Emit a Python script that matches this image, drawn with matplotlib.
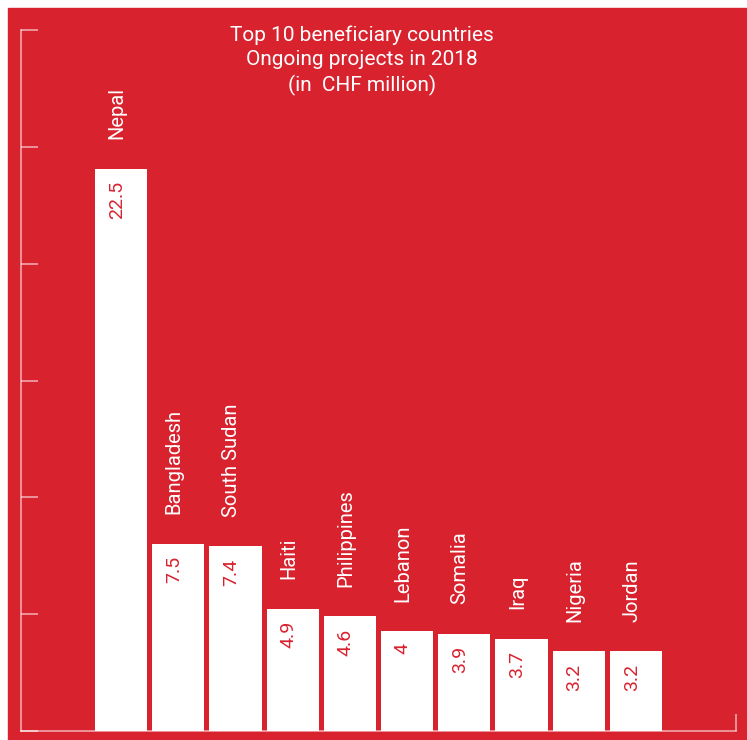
import matplotlib.pyplot as plt
from matplotlib.patches import Rectangle
import numpy as np

countries = ['Nepal', 'Bangladesh', 'South Sudan', 'Haiti', 'Philippines',
             'Lebanon', 'Somalia', 'Iraq', 'Nigeria', 'Jordan']
values = [22.5, 7.5, 7.4, 4.9, 4.6, 4, 3.9, 3.7, 3.2, 3.2]
value_labels = ['22.5', '7.5', '7.4', '4.9', '4.6', '4', '3.9', '3.7', '3.2', '3.2']
title = 'Top 10 beneficiary countries\nOngoing projects in 2018\n(in  CHF million)'

red = '#D8232F'
W, H = 747, 740
plt.rcParams['font.family'] = ['Roboto', 'DejaVu Sans']

fig = plt.figure(figsize=(W / 100, H / 100), dpi=100)
fig.patch.set_facecolor('white')
# red panel (small white strip on top and left)
fig.add_artist(Rectangle((8 / W, 0), 1, 1 - 8 / H, transform=fig.transFigure,
                         color=red, zorder=0))

ax = fig.add_axes([21 / W, 9 / H, (736 - 21) / W, (731 - 30) / H])
ax.set_facecolor('none')

x = np.arange(len(countries))
ax.bar(x, values, width=0.91, color='white', zorder=2)

ymax = 28.04
ax.set_xlim(-1.75, 10.75)
ax.set_ylim(0, ymax)

for xi, v, name, lab in zip(x, values, countries, value_labels):
    ax.annotate(name, (xi, v), xytext=(-3, 21), textcoords='offset points',
                rotation=90, ha='center', va='bottom', color='white', fontsize=14.5)
    ax.annotate(lab, (xi, v), xytext=(-3, -9), textcoords='offset points',
                rotation=90, ha='center', va='top', color=red, fontsize=14)

fig.text(362 / W, 1 - 25 / H, title, ha='center', va='top', color='white',
         fontsize=15, linespacing=1.35)

spine_col = (1, 1, 1, 0.55)
for s in ['top', 'right']:
    ax.spines[s].set_visible(False)
for s in ['left', 'bottom']:
    ax.spines[s].set_color(spine_col)
    ax.spines[s].set_linewidth(1.3)

ax.set_yticks(np.linspace(0, ymax, 7))
ax.set_xticks([10.75])
ax.tick_params(axis='both', direction='in', length=12, width=1.3,
               color=spine_col, labelleft=False, labelbottom=False)

fig.savefig('out.png', dpi=100, facecolor=fig.get_facecolor())
